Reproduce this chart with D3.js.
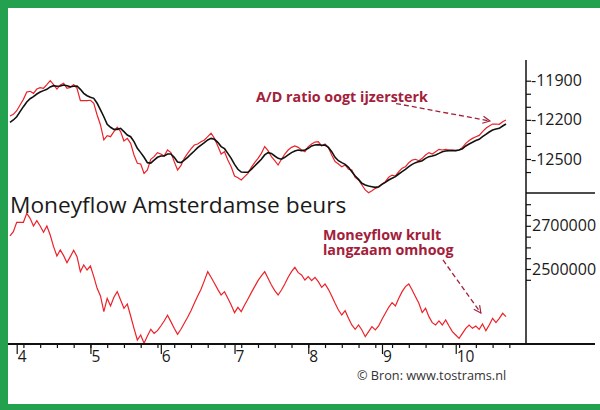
<!DOCTYPE html>
<meta charset="utf-8">
<style>
body { margin: 0; background: #fff; }
svg { display: block; font-family: "Open Sans", sans-serif; }
</style>
<svg width="600" height="410"></svg>
<script src="https://cdn.jsdelivr.net/npm/d3@7"></script>
<script>

// trading days, 0 = first bar on the chart
var days = d3.range(149);

// A/D ratio (red) and its average (black), top panel
var adRatio = [
  -12170, -12158, -12130, -12086, -12043, -11987, -11981, -11997, -11964, -11953,
  -11958, -11930, -11900, -11930, -11964, -11933, -11920, -11958, -11951, -11930,
  -11958, -12053, -12053, -12053, -12050, -12073, -12163, -12239, -12354, -12321,
  -12329, -12290, -12257, -12290, -12362, -12342, -12380, -12469, -12533, -12538,
  -12610, -12584, -12502, -12482, -12451, -12462, -12477, -12431, -12451, -12520,
  -12584, -12551, -12495, -12457, -12423, -12393, -12385, -12367, -12354, -12329,
  -12303, -12342, -12400, -12462, -12444, -12508, -12559, -12630, -12643, -12661,
  -12635, -12610, -12564, -12528, -12495, -12457, -12405, -12436, -12482, -12513,
  -12546, -12502, -12462, -12431, -12411, -12400, -12411, -12431, -12444, -12405,
  -12385, -12370, -12367, -12400, -12385, -12411, -12469, -12520, -12538, -12559,
  -12546, -12579, -12584, -12640, -12661, -12699, -12737, -12758, -12743, -12725,
  -12717, -12691, -12674, -12640, -12623, -12630, -12597, -12571, -12559, -12528,
  -12508, -12502, -12513, -12495, -12469, -12451, -12462, -12444, -12426, -12431,
  -12426, -12431, -12431, -12436, -12431, -12411, -12380, -12359, -12342, -12329,
  -12319, -12290, -12265, -12247, -12232, -12232, -12234, -12214, -12201
];

var adAverage = [
  -12219, -12201, -12176, -12137, -12099, -12063, -12038, -12022, -12002, -11987,
  -11976, -11966, -11948, -11938, -11943, -11941, -11933, -11938, -11946, -11943,
  -11941, -11966, -11997, -12015, -12027, -12035, -12073, -12124, -12176, -12234,
  -12257, -12273, -12273, -12265, -12290, -12316, -12329, -12367, -12418, -12451,
  -12487, -12528, -12531, -12508, -12487, -12477, -12477, -12462, -12462, -12487,
  -12523, -12528, -12508, -12487, -12462, -12439, -12413, -12393, -12375, -12354,
  -12342, -12349, -12372, -12405, -12421, -12457, -12495, -12541, -12579, -12600,
  -12602, -12602, -12579, -12554, -12528, -12502, -12469, -12451, -12457, -12477,
  -12495, -12502, -12487, -12469, -12451, -12439, -12431, -12436, -12431, -12418,
  -12400, -12393, -12390, -12395, -12393, -12411, -12444, -12487, -12513, -12528,
  -12541, -12564, -12597, -12630, -12656, -12686, -12699, -12707, -12712, -12717,
  -12712, -12694, -12679, -12661, -12648, -12635, -12615, -12597, -12579, -12559,
  -12541, -12528, -12520, -12513, -12495, -12482, -12477, -12469, -12457, -12444,
  -12439, -12436, -12436, -12436, -12431, -12421, -12400, -12385, -12372, -12359,
  -12349, -12329, -12311, -12293, -12278, -12270, -12265, -12247, -12232
];

// Moneyflow, bottom panel
var moneyflow = [
  2653000, 2672900, 2716100, 2716100, 2716100, 2757800, 2734600, 2699100, 2723800, 2699100,
  2669800, 2699100, 2657500, 2603500, 2560300, 2588000, 2561800, 2529400, 2557200, 2586500,
  2557200, 2487700, 2518600, 2495500, 2513900, 2464600, 2410600, 2375100, 2302600, 2364300,
  2328800, 2368900, 2395200, 2356600, 2318000, 2338000, 2282500, 2225400, 2171400, 2194600,
  2156000, 2189900, 2220800, 2202300, 2214600, 2236200, 2259400, 2285600, 2256300, 2225400,
  2197700, 2220800, 2248600, 2276300, 2307200, 2341200, 2375100, 2405900, 2446100, 2487700,
  2461500, 2433700, 2405900, 2379700, 2395200, 2364300, 2333400, 2298000, 2322600, 2302600,
  2333400, 2361200, 2390500, 2418300, 2446100, 2467700, 2487700, 2456900, 2426000, 2399800,
  2379700, 2402900, 2430600, 2461500, 2487700, 2507800, 2483100, 2472300, 2449200, 2464600,
  2446100, 2461500, 2441200, 2415200, 2430600, 2405900, 2375100, 2341200, 2310300, 2287200,
  2307200, 2271700, 2240800, 2220800, 2240800, 2217700, 2186800, 2210000, 2233100, 2217700,
  2236200, 2267100, 2294900, 2322600, 2344200, 2328800, 2364300, 2395200, 2418300, 2430600,
  2402900, 2372000, 2341200, 2298000, 2318000, 2279400, 2251700, 2240800, 2259400, 2240800,
  2264000, 2236200, 2210000, 2194600, 2179000, 2202300, 2225400, 2240800, 2225400, 2236200,
  2220800, 2245500, 2214600, 2240800, 2271700, 2251700, 2271700, 2294900, 2279400
];

// axis ticks
var weekTicks = d3.range(4, 150, 5);
var monthTicks = [2, 24, 45, 67, 89, 111, 133];
var monthLabels = ["4", "5", "6", "7", "8", "9", "10"];
var adTicks = d3.range(-11900, -12601, -100);
var adLabels = [-11900, -12200, -12500];
var mfTicks = d3.range(2800000, 2449999, -50000);
var mfLabels = [2700000, 2500000];

// annotation arrows: [day, value] start and end
var adArrow = [[115.2, -12075], [143.2, -12209]];
var mfArrow = [[129.2, 2541700], [140.5, 2296300]];

var red = "#ec2229", dark = "#a3203a", green = "#23a14f";

var svg = d3.select("svg");

svg.append("rect").attr("width", 600).attr("height", 410).attr("fill", green);
svg.append("rect").attr("x", 8).attr("y", 8).attr("width", 592).attr("height", 396).attr("fill", "#fff");

var x = d3.scaleLinear().domain([0, 148]).range([10, 506]),
    yTop = d3.scaleLinear().domain([-11900, -12500]).range([80.7, 159]),
    yBot = d3.scaleLinear().domain([2500000, 2700000]).range([269, 225.8]);

var lineTop = d3.line().x(function(d, i) { return x(days[i]); }).y(function(d) { return yTop(d); }),
    lineBot = d3.line().x(function(d, i) { return x(days[i]); }).y(function(d) { return yBot(d); });

// title
svg.append("text")
    .attr("x", 10).attr("y", 213)
    .attr("font-size", 22.7)
    .attr("fill", "#1a1a1a")
    .text("Moneyflow Amsterdamse beurs");

// series
svg.append("path").datum(adRatio)
    .attr("fill", "none").attr("stroke", red).attr("stroke-width", 1.2)
    .attr("d", lineTop);
svg.append("path").datum(adAverage)
    .attr("fill", "none").attr("stroke", "#111").attr("stroke-width", 1.6)
    .attr("d", lineTop);
svg.append("path").datum(moneyflow)
    .attr("fill", "none").attr("stroke", red).attr("stroke-width", 1.2)
    .attr("d", lineBot);

// axes
function styleAxis(size) {
  return function(g) {
    g.attr("font-family", null).attr("font-size", size);
    g.select(".domain").remove();
    g.selectAll("line").attr("stroke", "#111").attr("stroke-width", 1.2);
    g.selectAll("text").attr("fill", "#1a1a1a");
  };
}

svg.append("g")
    .attr("transform", "translate(526,0)")
    .call(d3.axisRight(yTop).tickValues(adTicks).tickSize(5).tickPadding(0)
      .tickFormat(function(d) { return adLabels.indexOf(d) >= 0 ? String(d) : ""; }))
    .call(styleAxis(16));

svg.append("g")
    .attr("transform", "translate(526,0)")
    .call(d3.axisRight(yBot).tickValues(mfTicks).tickSize(5).tickPadding(1)
      .tickFormat(function(d) { return mfLabels.indexOf(d) >= 0 ? String(d) : ""; }))
    .call(styleAxis(16));

svg.append("g")
    .attr("transform", "translate(0,344)")
    .call(d3.axisBottom(x).tickValues(weekTicks).tickSize(4).tickFormat(""))
    .call(styleAxis(15.5));

svg.append("g")
    .attr("transform", "translate(0,344)")
    .call(d3.axisBottom(x).tickValues(monthTicks).tickSize(10)
      .tickFormat(function(d, i) { return monthLabels[i]; }))
    .call(styleAxis(15.5))
    .call(function(g) {
      g.selectAll("text").attr("text-anchor", "start").attr("x", 0.5).attr("y", 18).attr("dy", 0);
    });

// frame lines
svg.append("line").attr("x1", 8).attr("x2", 595).attr("y1", 344).attr("y2", 344)
    .attr("stroke", "#111").attr("stroke-width", 2);
svg.append("line").attr("x1", 526).attr("x2", 526).attr("y1", 60).attr("y2", 344)
    .attr("stroke", "#111").attr("stroke-width", 1.5);
svg.append("line").attr("x1", 526).attr("x2", 595).attr("y1", 193).attr("y2", 193)
    .attr("stroke", "#111").attr("stroke-width", 1.5);

// annotations
svg.append("defs").append("marker")
    .attr("id", "head")
    .attr("viewBox", "0 0 10 10")
    .attr("refX", 9).attr("refY", 5)
    .attr("markerWidth", 9).attr("markerHeight", 9)
    .attr("markerUnits", "userSpaceOnUse")
    .attr("orient", "auto")
  .append("path")
    .attr("d", "M1,1L9,5L1,9")
    .attr("fill", "none").attr("stroke", dark).attr("stroke-width", 1.3);

svg.append("line")
    .attr("x1", x(adArrow[0][0])).attr("y1", yTop(adArrow[0][1]))
    .attr("x2", x(adArrow[1][0])).attr("y2", yTop(adArrow[1][1]))
    .attr("stroke", dark).attr("stroke-width", 1.3).attr("stroke-dasharray", "5,3")
    .attr("marker-end", "url(#head)");

svg.append("line")
    .attr("x1", x(mfArrow[0][0])).attr("y1", yBot(mfArrow[0][1]))
    .attr("x2", x(mfArrow[1][0])).attr("y2", yBot(mfArrow[1][1]))
    .attr("stroke", dark).attr("stroke-width", 1.3).attr("stroke-dasharray", "5,3")
    .attr("marker-end", "url(#head)");

svg.append("text")
    .attr("x", 256).attr("y", 102)
    .attr("font-size", 14.3).attr("font-weight", "bold").attr("fill", dark)
    .text("A/D ratio oogt ijzersterk");

var mfNote = svg.append("text")
    .attr("x", 323).attr("y", 240)
    .attr("font-size", 14.3).attr("font-weight", "bold").attr("fill", dark);
mfNote.append("tspan").attr("x", 323).text("Moneyflow krult");
mfNote.append("tspan").attr("x", 323).attr("dy", 15).text("langzaam omhoog");

svg.append("text")
    .attr("x", 357).attr("y", 380)
    .attr("font-size", 12.7).attr("fill", "#333")
    .text("\u00a9 Bron: www.tostrams.nl");

</script>
